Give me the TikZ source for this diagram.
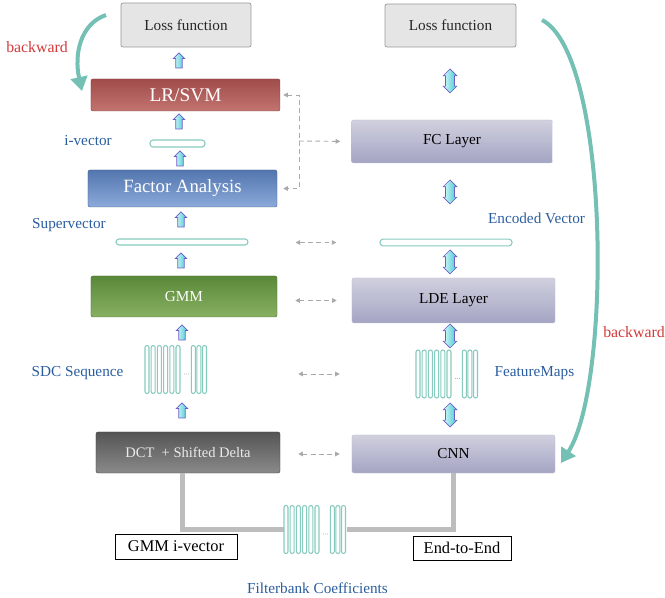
\documentclass[tikz,border=0pt]{standalone}
\usepackage{fontspec}
\setmainfont{Liberation Serif}
\usetikzlibrary{shapes.arrows,arrows.meta}

\definecolor{lossfill}{HTML}{E5E5E5}
\definecolor{lossline}{HTML}{9A9A9A}
\definecolor{svmtop}{HTML}{A04C4A}
\definecolor{svmbot}{HTML}{C27470}
\definecolor{fatop}{HTML}{5276AE}
\definecolor{fabot}{HTML}{8CAADA}
\definecolor{gmmtop}{HTML}{5A8839}
\definecolor{gmmbot}{HTML}{88B062}
\definecolor{dcttop}{HTML}{555555}
\definecolor{dctbot}{HTML}{8A8A8A}
\definecolor{lavtop}{HTML}{D0D0DE}
\definecolor{lavbot}{HTML}{A4A4C4}
\definecolor{lblblue}{HTML}{2A5D9F}
\definecolor{backred}{HTML}{D33A3A}
\definecolor{backteal}{HTML}{74C0B4}
\definecolor{barteal}{HTML}{86CBBE}
\definecolor{arrlight}{HTML}{D8F7F8}
\definecolor{arrcyan}{HTML}{3FCBD2}
\definecolor{arrline}{HTML}{6E5BC8}
\definecolor{dashgray}{HTML}{AAAAAA}
\definecolor{trunkgray}{HTML}{BDBDBD}

\begin{document}
\begin{tikzpicture}[x=0.03cm,y=-0.03cm,
  txt/.style={font=\fontsize{13}{15}\selectfont},
  block/.style={rectangle,rounded corners=0.06cm,inner sep=2pt,txt},
  lossbox/.style={block,draw=lossline,line width=0.6pt,fill=lossfill,text=black!85},
  svmbox/.style={block,draw=svmtop!80!black,top color=svmtop,bottom color=svmbot,text=white,font=\fontsize{16.5}{18}\selectfont},
  fabox/.style={block,draw=fatop!80!black,top color=fatop,bottom color=fabot,text=white,font=\fontsize{16}{18}\selectfont},
  gmmbox/.style={block,draw=gmmtop!80!black,top color=gmmtop,bottom color=gmmbot,text=white},
  dctbox/.style={block,draw=dcttop!80!black,top color=dcttop,bottom color=dctbot,text=white!92!black,font=\fontsize{12.4}{14}\selectfont},
  layerbox/.style={block,draw=lavbot!70!white,top color=lavtop,bottom color=lavbot,text=black},
  tagbox/.style={rectangle,draw=black,line width=0.8pt,inner sep=2pt,font=\fontsize{14}{16}\selectfont},
  vecbar/.style={rectangle,rounded corners=0.09cm,draw=barteal,line width=0.9pt,fill=white,inner sep=0pt},
  seqgroup/.style={rectangle,inner sep=0pt},
  barline/.style={draw=barteal,line width=0.9pt,fill=white,rounded corners=0.06cm},
  lbl/.style={txt,text=lblblue},
  backlbl/.style={font=\fontsize{13.5}{15}\selectfont,text=backred},
  uparr/.style={single arrow,shape border rotate=90,draw=arrline,line width=0.6pt,
                left color=arrlight,right color=arrcyan,inner sep=0.085cm,
                minimum height=0.45cm,single arrow head extend=0.075cm},
  dblarr/.style={double arrow,shape border rotate=90,draw=arrline,line width=0.6pt,
                 left color=arrlight,right color=arrcyan,inner sep=0.125cm,
                 minimum height=0.72cm,double arrow head extend=0.07cm},
  dashlink/.style={draw=dashgray,line width=0.8pt,dash pattern=on 4pt off 3pt,
                   arrows={-{Triangle[length=4pt,width=4pt]}}},
  trunk/.style={draw=trunkgray,line width=0.15cm,line join=miter},
  backarr/.style={draw=backteal,line width=0.12cm,-{Triangle[length=0.42cm,width=0.5cm]}},
  seqbars/.pic={
    \foreach \bx in {-31.5,-25.3,-19.1,-12.9,-6.7,-0.5,14.8,20.4,26}
      \draw[barline] (\bx,-24) rectangle ++(4,48);
    \foreach \dx in {8,10,12}
      \fill[gray!70] (\dx,4.5) circle (0.5);
  },
]
\useasboundingbox (0,0) rectangle (665,598);

% GMM i-vector column
\node[lossbox,minimum width=3.9cm,minimum height=1.32cm] (lossL) at (186,25) {Loss function};
\node[svmbox,minimum width=5.67cm,minimum height=0.96cm] (lrsvm) at (185.5,95) {LR/SVM};
\node[vecbar,minimum width=1.65cm,minimum height=0.21cm] (ivbar) at (177.5,143.5) {};
\node[fabox,minimum width=5.67cm,minimum height=1.11cm] (fa) at (182.5,188.5) {Factor Analysis};
\node[vecbar,minimum width=3.96cm,minimum height=0.18cm] (superbar) at (182,242) {};
\node[gmmbox,minimum width=5.58cm,minimum height=1.23cm] (gmm) at (184,296.5) {GMM};
\node[seqgroup,minimum width=1.89cm,minimum height=1.47cm] (sdc) at (176.5,369.5) {};
\pic at (sdc) {seqbars};
\node[dctbox,minimum width=5.52cm,minimum height=1.23cm] (dct) at (188,452.5) {DCT~ + Shifted Delta};

% End-to-end column
\node[lossbox,minimum width=3.93cm,minimum height=1.29cm] (lossR) at (450.5,25.5) {Loss function};
\node[layerbox,minimum width=6.03cm,minimum height=1.29cm] (fc) at (452,141.5) {FC Layer};
\node[vecbar,minimum width=3.96cm,minimum height=0.2cm] (encbar) at (446,242.5) {};
\node[layerbox,minimum width=6.09cm,minimum height=1.35cm] (lde) at (453.5,300.5) {LDE Layer};
\node[seqgroup,minimum width=1.95cm,minimum height=1.44cm] (fmaps) at (447.5,374) {};
\pic at (fmaps) {seqbars};
\node[layerbox,minimum width=6.09cm,minimum height=1.14cm] (cnn) at (453.5,454) {CNN};

% shared input
\node[seqgroup,minimum width=1.89cm,minimum height=1.41cm] (fbank) at (315.5,529.5) {};
\node[tagbox,minimum width=3.66cm,minimum height=0.75cm] (gmmiv) at (176,546.5) {GMM i-vector};
\node[tagbox,minimum width=2.94cm,minimum height=0.72cm] (e2e) at (462,548) {End-to-End};

\draw[trunk] ([xshift=-0.165cm]dct.south) |- (fbank.west);
\draw[trunk] (fbank.east) -| (cnn.south);
\pic at (fbank) {seqbars};

% block arrows
\node[uparr] (u1) at (179,62) {};
\node[uparr] (u2) at (179,123) {};
\node[uparr] (u3) at (180,160) {};
\node[uparr] (u4) at (181,221) {};
\node[uparr] (u5) at (181,262) {};
\node[uparr] (u6) at (182,334) {};
\node[uparr] (u7) at (182,412) {};
\node[dblarr] (d1) at (450,81) {};
\node[dblarr] (d2) at (450,192) {};
\node[dblarr] (d3) at (450,262) {};
\node[dblarr] (d4) at (450,336) {};
\node[dblarr] (d5) at (450,415) {};

% labels
\node[lbl] (ivlab) at (88,141) {i-vector};
\node[lbl] (suplab) at (69,225) {Supervector};
\node[lbl] (sdclab) at (77.5,373) {SDC Sequence};
\node[lbl] (enclab) at (536.5,218) {Encoded Vector};
\node[lbl] (fmlab) at (534.5,373) {FeatureMaps};
\node[lbl] (fblab) at (317.5,588) {Filterbank Coefficients};
\node[backlbl] (bwLlab) at (37,47) {backward};
\node[backlbl] (bwRlab) at (634,332) {backward};

% dashed correspondences
\coordinate (brk) at (299,141);
\draw[dashlink,{Triangle[length=4pt,width=4pt]}-{Triangle[length=4pt,width=4pt]},
      shorten <=0.09cm,shorten >=0.18cm] (lrsvm.east) -| (brk) |- (fa.east);
\draw[dashlink,shorten >=0.33cm] (brk) -- (fc.west);
\draw[dashlink,{Triangle[length=4pt,width=4pt]}-{Triangle[length=4pt,width=4pt]},
      shorten <=1.41cm,shorten >=1.29cm] (superbar.east |- encbar.west) -- (encbar.west);
\draw[dashlink,{Triangle[length=4pt,width=4pt]}-{Triangle[length=4pt,width=4pt]},
      shorten <=0.54cm,shorten >=0.45cm] (gmm.east |- lde.west) -- (lde.west);
\draw[dashlink,{Triangle[length=4pt,width=4pt]}-{Triangle[length=4pt,width=4pt]},
      shorten <=2.7cm,shorten >=2.25cm] (sdc.east |- fmaps.west) -- (fmaps.west);
\draw[dashlink,{Triangle[length=4pt,width=4pt]}-{Triangle[length=4pt,width=4pt]},
      shorten <=0.54cm,shorten >=0.36cm] (dct.east |- cnn.west) -- (cnn.west);

% backward curves
\coordinate (bwLs) at (106,15);
\coordinate (bwLe) at (82,91);
\draw[backarr] (bwLs) .. controls (80,24) and (74,55) .. (bwLe);
\coordinate (bwRs) at (542,20);
\coordinate (bwRe) at (561,463);
\draw[backarr] (bwRs) .. controls (610,55) and (612,385) .. (bwRe);

\end{tikzpicture}
\end{document}
